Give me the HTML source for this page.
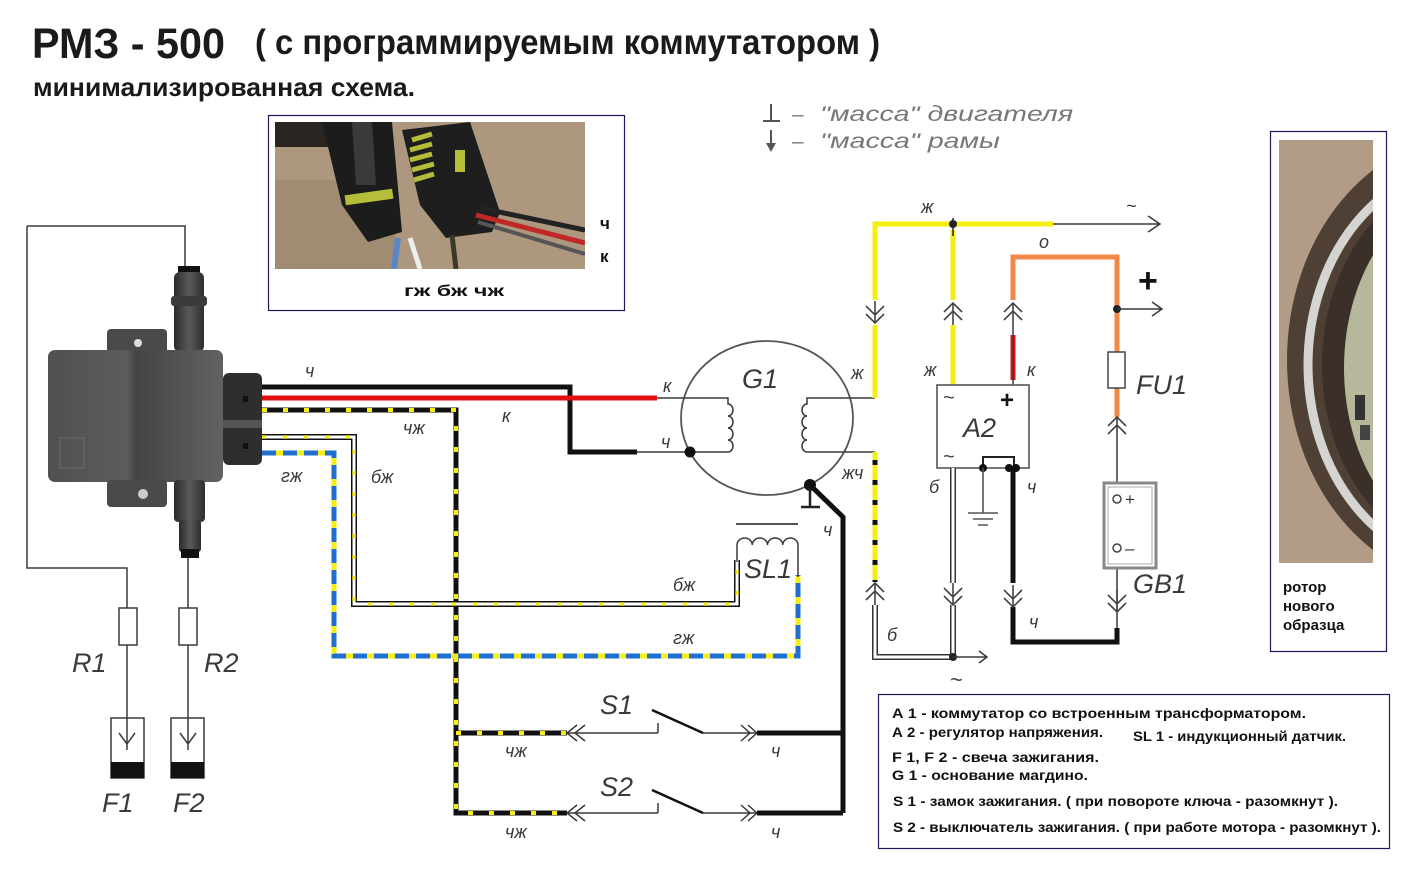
<!DOCTYPE html>
<html><head><meta charset="utf-8"><style>
html,body{margin:0;padding:0;background:#fff;}
svg{display:block;}
text{font-family:"Liberation Sans",sans-serif;}
.l{font-style:italic;fill:#3a3a3a;font-size:18px;}
.big{font-style:italic;fill:#3a3a3a;font-size:27px;}
.t{stroke:#3a3a3a;stroke-width:1.5;fill:none;}
.lg{font-weight:bold;font-size:14px;fill:#111;}
</style></head><body>
<svg width="1410" height="873" viewBox="0 0 1410 873" xmlns="http://www.w3.org/2000/svg">
<defs>
<g id="cu"><path d="M-9,-2 L0,-11 L9,-2 M-9,6 L0,-3 L9,6 M0,-11 V11" fill="none" stroke="#444" stroke-width="1.6"/></g>
<g id="cd"><path d="M-9,2 L0,11 L9,2 M-9,-6 L0,3 L9,-6 M0,-11 V11" fill="none" stroke="#444" stroke-width="1.6"/></g>
<clipPath id="rc"><rect x="1279" y="140" width="94" height="423"/></clipPath>
<clipPath id="pc"><rect x="275" y="122" width="310" height="147"/></clipPath>
<linearGradient id="cab" x1="0" x2="1" y1="0" y2="0"><stop offset="0" stop-color="#2a2a2a"/><stop offset="0.5" stop-color="#5a5a5a"/><stop offset="1" stop-color="#2e2e2e"/></linearGradient>
<linearGradient id="bod" x1="0" x2="1" y1="0" y2="0"><stop offset="0" stop-color="#505050"/><stop offset="0.45" stop-color="#5c5c5c"/><stop offset="0.5" stop-color="#444"/><stop offset="1" stop-color="#626262"/></linearGradient>
</defs>

<!-- Titles -->
<text x="32" y="58" font-weight="bold" font-size="43" fill="#1a1a1a" textLength="193" lengthAdjust="spacingAndGlyphs">РМЗ - 500</text>
<text x="255" y="54" font-weight="bold" font-size="35" fill="#1a1a1a" textLength="625" lengthAdjust="spacingAndGlyphs">( с программируемым коммутатором )</text>
<text x="33" y="96" font-weight="bold" font-size="26" fill="#1a1a1a" textLength="382" lengthAdjust="spacingAndGlyphs">минимализированная схема.</text>

<!-- mass legend -->
<path d="M771,104 V121 M763,121 H780" stroke="#555" stroke-width="2" fill="none"/>
<text x="792" y="121" font-style="italic" font-size="21" fill="#777">–</text>
<text x="820" y="121" font-style="italic" font-size="21" fill="#777" textLength="253" lengthAdjust="spacingAndGlyphs">"масса"  двигателя</text>
<path d="M771,130 V146" stroke="#555" stroke-width="2"/>
<path d="M766,143 L771,152 L776,143 Z" fill="#555"/>
<text x="792" y="148" font-style="italic" font-size="21" fill="#777">–</text>
<text x="820" y="148" font-style="italic" font-size="21" fill="#777" textLength="180" lengthAdjust="spacingAndGlyphs">"масса"  рамы</text>

<!-- Photo box 1 -->
<rect x="268.5" y="115.5" width="356" height="195" fill="#fff" stroke="#1a1a5a" stroke-width="1.2"/>
<g clip-path="url(#pc)">
<rect x="275" y="122" width="310" height="147" fill="#ad987f"/>
<rect x="275" y="180" width="120" height="89" fill="#a08b73"/>
<rect x="275" y="122" width="60" height="25" fill="#2a2520"/>
<polygon points="322,122 392,122 402,232 368,242 342,205" fill="#1c1c1c"/>
<polygon points="352,122 372,122 376,185 356,185" fill="#3a3a3a"/>
<rect x="345" y="192" width="48" height="10" fill="#b5bd3a" transform="rotate(-8 369 197)"/>
<polygon points="402,130 470,122 500,212 492,232 446,238 420,205" fill="#1e1e1e"/>
<path d="M412,140 l20,-6 M410,150 l22,-6 M410,160 l22,-6 M412,170 l22,-6 M414,180 l20,-6" stroke="#b5bd3a" stroke-width="5"/>
<rect x="455" y="150" width="10" height="22" fill="#b5bd3a"/>
<path d="M398,238 L394,269" stroke="#5a86c8" stroke-width="6"/>
<path d="M410,238 L420,269" stroke="#eee" stroke-width="5"/>
<path d="M452,235 L456,269" stroke="#3a3a2a" stroke-width="5"/>
<path d="M476,215 L585,243" stroke="#c02828" stroke-width="5"/>
<path d="M480,208 L585,230" stroke="#222" stroke-width="5"/>
<path d="M478,222 L585,254" stroke="#555" stroke-width="4"/>
</g>
<text x="600" y="229" font-weight="bold" font-size="17" fill="#111">ч</text>
<text x="600" y="262" font-weight="bold" font-size="17" fill="#111">к</text>
<text x="404" y="296" font-weight="bold" font-size="16" fill="#111" textLength="100" lengthAdjust="spacingAndGlyphs">гж  бж  чж</text>

<!-- Rotor photo box -->
<rect x="1270.5" y="131.5" width="116" height="520" fill="#fff" stroke="#1a1a5a" stroke-width="1.2"/>
<g clip-path="url(#rc)">
<rect x="1279" y="140" width="94" height="423" fill="#b29c86"/>
<ellipse cx="1470" cy="360" rx="183" ry="224" fill="#4e4034"/>
<ellipse cx="1470" cy="365" rx="162" ry="200" fill="none" stroke="#d4d4d0" stroke-width="9"/>
<ellipse cx="1470" cy="365" rx="148" ry="190" fill="#3a3029"/>
<ellipse cx="1472" cy="368" rx="128" ry="178" fill="#b7b79c"/>
<rect x="1355" y="395" width="10" height="25" fill="#333"/>
<rect x="1360" y="425" width="10" height="15" fill="#444"/>
</g>
<text x="1283" y="592" font-weight="bold" font-size="15" fill="#111">ротор</text>
<text x="1283" y="611" font-weight="bold" font-size="15" fill="#111">нового</text>
<text x="1283" y="630" font-weight="bold" font-size="15" fill="#111">образца</text>

<!-- Commutator left wiring -->
<path d="M27,226 V568 H127 V608 M27,226 H185 V268" class="t"/>
<rect x="119" y="608" width="18" height="37" fill="#fff" class="t"/>
<path d="M127,645 V750 M119,733 L127,744 L135,733" class="t"/>
<rect x="111" y="718" width="33" height="60" fill="none" class="t"/>
<rect x="111" y="762" width="33" height="16" fill="#111"/>
<path d="M188,556 V608" class="t"/>
<rect x="179" y="608" width="18" height="37" fill="#fff" class="t"/>
<path d="M188,645 V750 M180,733 L188,744 L196,733" class="t"/>
<rect x="171" y="718" width="33" height="60" fill="none" class="t"/>
<rect x="171" y="762" width="33" height="16" fill="#111"/>
<text x="72" y="672" class="big" font-size="25">R1</text>
<text x="204" y="672" class="big" font-size="25">R2</text>
<text x="102" y="812" class="big" font-size="25">F1</text>
<text x="173" y="812" class="big" font-size="25">F2</text>

<!-- Commutator photo approx -->
<rect x="178" y="266" width="22" height="8" fill="#111"/>
<rect x="174" y="272" width="30" height="80" rx="6" fill="url(#cab)"/>
<rect x="171" y="296" width="36" height="10" rx="3" fill="#3a3a3a"/>
<rect x="107" y="329" width="60" height="26" rx="4" fill="#4a4a4a"/>
<circle cx="138" cy="343" r="4" fill="#ddd"/>
<rect x="48" y="350" width="175" height="132" rx="7" fill="url(#bod)"/>
<rect x="60" y="438" width="24" height="30" fill="none" stroke="#6a6a6a"/>
<rect x="223" y="373" width="39" height="92" rx="6" fill="#2e2e2e"/>
<rect x="223" y="420" width="39" height="8" fill="#555"/>
<rect x="243" y="396" width="5" height="6" fill="#111"/>
<rect x="243" y="443" width="5" height="6" fill="#111"/>
<rect x="107" y="480" width="60" height="27" rx="4" fill="#4a4a4a"/>
<circle cx="143" cy="494" r="5" fill="#ccc"/>
<rect x="174" y="480" width="31" height="42" rx="4" fill="url(#cab)"/>
<rect x="179" y="520" width="22" height="32" rx="3" fill="url(#cab)"/>
<rect x="181" y="549" width="18" height="9" fill="#111"/>

<!-- чж wire -->
<path d="M262,410 H456 V813 H567 M456,733 H567" stroke="#111" stroke-width="5" fill="none"/>
<path d="M262,410 H456 V813 H567 M456,733 H567" stroke="#f5ee10" stroke-width="4" fill="none" stroke-dasharray="5 16"/>
<!-- бж wire -->
<path d="M262,437 H354 V604 H737 V560" stroke="#111" stroke-width="6" fill="none"/>
<path d="M262,437 H354 V604 H737 V560" stroke="#fff" stroke-width="3" fill="none"/>
<path d="M262,437 H354 V604 H737 V560" stroke="#f5ee10" stroke-width="3.5" fill="none" stroke-dasharray="4 17"/>
<!-- гж wire -->
<path d="M262,453 H334 V656 H798 V575" stroke="#f5ee10" stroke-width="5" fill="none"/>
<path d="M262,453 H334 V656 H798 V575" stroke="#1e6fd0" stroke-width="5" fill="none" stroke-dasharray="14 7"/>
<!-- black ч -->
<path d="M262,387 H570 V452 H637" stroke="#111" stroke-width="5" fill="none"/>
<!-- red к -->
<path d="M262,398 H657" stroke="#e01010" stroke-width="5" fill="none"/>

<!-- wire labels -->
<text x="305" y="377" class="l">ч</text>
<text x="502" y="422" class="l">к</text>
<text x="403" y="434" class="l" font-size="16">чж</text>
<text x="371" y="483" class="l" font-size="16">бж</text>
<text x="281" y="482" class="l" font-size="16">гж</text>
<text x="673" y="591" class="l" font-size="16">бж</text>
<text x="673" y="644" class="l" font-size="16">гж</text>

<!-- G1 -->
<ellipse cx="767" cy="418" rx="86" ry="77" fill="none" stroke="#555" stroke-width="1.8"/>
<path d="M657,398 H728 V404 a5,6 0 0 1 0,12 a5,6 0 0 1 0,12 a5,6 0 0 1 0,12 a5,6 0 0 1 0,12 V452 H637" class="t"/>
<path d="M875,398 H807 V404 a5,6 0 0 0 0,12 a5,6 0 0 0 0,12 a5,6 0 0 0 0,12 a5,6 0 0 0 0,12 V452 H875" class="t"/>
<circle cx="690" cy="452" r="5.5" fill="#111"/>
<circle cx="810" cy="485" r="6" fill="#111"/>
<path d="M810,485 V507 M801,507 H820" stroke="#222" stroke-width="2.5"/>
<path d="M810,485 L843,517 V813" stroke="#111" stroke-width="5" fill="none"/>
<text x="742" y="388" class="big" font-size="26">G1</text>
<text x="663" y="392" class="l">к</text>
<text x="661" y="448" class="l">ч</text>
<text x="851" y="379" class="l">ж</text>
<text x="842" y="479" class="l">жч</text>
<text x="823" y="536" class="l">ч</text>

<!-- SL1 -->
<path d="M736,524 H798" stroke="#555" stroke-width="2"/>
<path d="M737,562 V545 a7.6,7 0 0 1 15.25,0 a7.6,7 0 0 1 15.25,0 a7.6,7 0 0 1 15.25,0 a7.6,7 0 0 1 15.25,0 V577" class="t"/>
<text x="744" y="578" class="big" font-size="27">SL1</text>

<!-- Switches -->
<path d="M567,733 H658 M658,723 V733 M567,813 H658 M658,803 V813" class="t"/>
<path d="M577,725 L567,733 L577,741 M585,725 L575,733 L585,741 M577,805 L567,813 L577,821 M585,805 L575,813 L585,821" class="t"/>
<path d="M652,710 L703,733 M652,790 L703,813" stroke="#111" stroke-width="2.5"/>
<path d="M703,733 H758 M703,813 H758" class="t"/>
<path d="M741,725 L750,733 L741,741 M748,725 L757,733 L748,741 M741,805 L750,813 L741,821 M748,805 L757,813 L748,821" class="t"/>
<path d="M757,733 H843 M757,813 H843" stroke="#111" stroke-width="5"/>
<text x="600" y="714" class="big" font-size="26">S1</text>
<text x="600" y="796" class="big" font-size="26">S2</text>
<text x="505" y="757" class="l" font-size="15">чж</text>
<text x="505" y="838" class="l" font-size="15">чж</text>
<text x="771" y="757" class="l">ч</text>
<text x="771" y="838" class="l">ч</text>

<!-- Right top yellow -->
<path d="M875,398 V325 M875,300 V224 H1053 M953,230 V300 M953,325 V385" stroke="#f5ee10" stroke-width="5" fill="none"/>
<path d="M1053,224 H1160 M1148,216 L1160,224 L1148,232" class="t"/>
<circle cx="953" cy="224" r="4" fill="#222"/>
<path d="M953,218 V236" stroke="#222" stroke-width="1.5"/>
<use href="#cd" x="875" y="312"/>
<use href="#cu" x="953" y="314"/>
<use href="#cu" x="1013" y="314"/>
<text x="921" y="213" class="l">ж</text>
<text x="1126" y="212" class="l" font-size="22">~</text>

<!-- Orange -->
<path d="M1013,300 V257 H1117 V352 M1117,388 V417" stroke="#f08848" stroke-width="5" fill="none"/>
<path d="M1013,335 V380" stroke="#e01010" stroke-width="5"/>
<path d="M1013,325 V385" class="t"/>
<circle cx="1117" cy="309" r="4" fill="#222"/>
<path d="M1117,309 H1162 M1152,302 L1162,309 L1152,316" class="t"/>
<text x="1138" y="292" font-weight="bold" font-size="34" fill="#111">+</text>
<text x="1039" y="248" class="l">о</text>
<rect x="1108" y="352" width="17" height="36" fill="#fff" stroke="#444" stroke-width="1.5"/>
<text x="1136" y="394" class="big" font-size="25">FU1</text>
<use href="#cu" x="1117" y="428"/>
<path d="M1117,439 V495 M1117,552 V590" class="t"/>
<text x="924" y="376" class="l">ж</text>
<text x="1027" y="376" class="l">к</text>

<!-- A2 -->
<rect x="937" y="385" width="92" height="83" fill="#fff" stroke="#555" stroke-width="1.6"/>
<text x="943" y="404" font-size="20" fill="#444">~</text>
<text x="1000" y="408" font-weight="bold" font-size="24" fill="#111">+</text>
<text x="963" y="437" class="big" font-size="26">A2</text>
<text x="943" y="463" font-size="20" fill="#444">~</text>
<path d="M983,468 V457 H1014 V468" stroke="#222" stroke-width="2" fill="none"/>
<circle cx="983" cy="468" r="4" fill="#111"/>
<circle cx="1009" cy="468" r="4" fill="#111"/>
<circle cx="1016" cy="468" r="4" fill="#111"/>
<path d="M983,468 V513 M968,513 H998 M973,519 H993 M978,525 H988" stroke="#555" stroke-width="1.6" fill="none"/>
<text x="929" y="493" class="l">б</text>
<text x="1027" y="493" class="l">ч</text>

<!-- A2 bottom wires -->
<path d="M953,468 V583 M953,605 V657 H875 V605" stroke="#333" stroke-width="6" fill="none"/>
<path d="M953,468 V583 M953,605 V657 H875 V605" stroke="#fff" stroke-width="3" fill="none"/>
<use href="#cd" x="953" y="594"/>
<circle cx="953" cy="657" r="4" fill="#222"/>
<path d="M953,657 H987 M979,651 L987,657 L979,663" class="t"/>
<text x="950" y="687" font-size="22" fill="#444">~</text>
<path d="M1013,468 V583 M1013,607 V642 H1117 V628" stroke="#111" stroke-width="5" fill="none"/>
<use href="#cd" x="1013" y="596"/>
<path d="M1117,628 V590" class="t"/>
<use href="#cd" x="1117" y="601"/>
<text x="1029" y="628" class="l">ч</text>
<text x="887" y="641" class="l">б</text>

<!-- yellow/black down from G1 -->
<path d="M875,452 V582" stroke="#f5ee10" stroke-width="5" fill="none"/>
<path d="M875,460 V582" stroke="#111" stroke-width="5" fill="none" stroke-dasharray="5 15"/>
<use href="#cu" x="875" y="594"/>

<!-- Battery -->
<rect x="1104" y="483" width="52" height="85" fill="#fff" stroke="#888" stroke-width="3"/>
<rect x="1108" y="487" width="44" height="77" fill="none" stroke="#aaa" stroke-width="1"/>
<circle cx="1117" cy="499" r="4" fill="#fff" stroke="#444" stroke-width="1.5"/>
<circle cx="1117" cy="548" r="4" fill="#fff" stroke="#444" stroke-width="1.5"/>
<text x="1125" y="505" font-size="17" fill="#333">+</text>
<text x="1125" y="554" font-size="17" fill="#333">–</text>
<text x="1133" y="593" class="big" font-size="25">GB1</text>

<!-- Legend box -->
<rect x="878.5" y="694.5" width="511" height="154" fill="#fff" stroke="#1a1a5a" stroke-width="1.2"/>
<text x="892" y="718" class="lg" font-size="15" textLength="414" lengthAdjust="spacingAndGlyphs">А 1 - коммутатор со встроенным трансформатором.</text>
<text x="892" y="737" class="lg" font-size="13" textLength="211" lengthAdjust="spacingAndGlyphs">А 2 -  регулятор напряжения.</text>
<text x="1133" y="741" class="lg" font-size="14" textLength="213" lengthAdjust="spacingAndGlyphs">SL 1 -  индукционный датчик.</text>
<text x="892" y="762" class="lg" font-size="15" textLength="207" lengthAdjust="spacingAndGlyphs">F 1,  F 2 - свеча зажигания.</text>
<text x="892" y="780" class="lg" font-size="15" textLength="196" lengthAdjust="spacingAndGlyphs">G 1 - основание магдино.</text>
<text x="893" y="806" class="lg" font-size="14" textLength="445" lengthAdjust="spacingAndGlyphs">S 1 - замок зажигания.  ( при повороте ключа - разомкнут ).</text>
<text x="893" y="832" class="lg" font-size="14" textLength="488" lengthAdjust="spacingAndGlyphs">S 2 - выключатель зажигания.  ( при работе мотора - разомкнут ).</text>
</svg>
</body></html>
